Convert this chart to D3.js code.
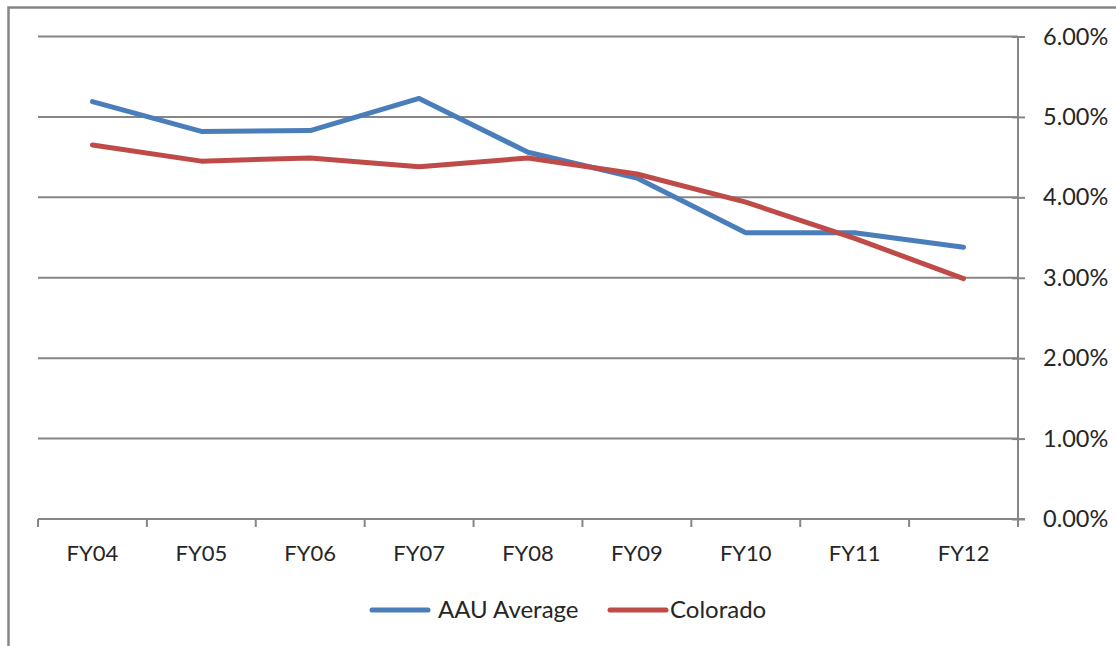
<!DOCTYPE html>
<html lang="en">
<head>
<meta charset="UTF-8">
<title>AAU Average vs Colorado</title>
<style>
    body { margin: 0; background: #fff; font-family: Lato, "Open Sans", sans-serif; }
    svg { display: block; }
    .grid line { stroke: #868686; stroke-width: 2; }
    .axis text { font-size: 22px; fill: #262626; font-family: Lato, sans-serif; }
    .axis.y text { font-size: 23.5px; }
    .axis path, .axis line { stroke: #868686; stroke-width: 2; }
    .legend text { font-size: 24px; fill: #262626; }
</style>
</head>
<body>
<script src="https://d3js.org/d3.v7.min.js"></script>
<script>
    // data
    const years = ["FY04", "FY05", "FY06", "FY07", "FY08", "FY09", "FY10", "FY11", "FY12"];
    const aauAverage = [5.19, 4.82, 4.83, 5.23, 4.56, 4.24, 3.56, 3.56, 3.38];
    const colorado = [4.65, 4.45, 4.49, 4.38, 4.49, 4.29, 3.94, 3.49, 2.99];
    const yTicks = [0, 1, 2, 3, 4, 5, 6];
    const seriesNames = ["AAU Average", "Colorado"];
    const colors = ["#4a7ebb", "#be4b48"];

    const width = 1116, height = 646;
    const plotLeft = 38, plotRight = 1018, plotTop = 36.5, plotBottom = 519;

    const svg = d3.select("body").append("svg")
        .attr("width", width)
        .attr("height", height);

    // chart frame (partly cut off in the original)
    svg.append("path")
        .attr("d", "M8.5," + height + "V7.5H" + width)
        .attr("fill", "none")
        .attr("stroke", "#868686")
        .attr("stroke-width", 2.5);

    const x = d3.scaleBand().domain(years).range([plotLeft, plotRight]);
    const y = d3.scaleLinear().domain([0, 6]).range([plotBottom, plotTop]);

    // gridlines
    svg.append("g").attr("class", "grid")
        .selectAll("line")
        .data(yTicks.slice(1))
        .join("line")
        .attr("x1", plotLeft)
        .attr("x2", plotRight)
        .attr("y1", d => y(d))
        .attr("y2", d => y(d));

    // right value axis
    const yAxis = d3.axisRight(y)
        .tickValues(yTicks)
        .tickSize(7)
        .tickPadding(18)
        .tickFormat(d => d3.format(".2f")(d) + "%");
    const ya = svg.append("g").attr("class", "axis y")
        .attr("transform", "translate(" + plotRight + ",0)")
        .call(yAxis);
    ya.select(".domain").attr("d", "M0," + y(6) + "V" + y(0));
    ya.selectAll(".tick line").attr("x1", -6);

    // bottom category axis, ticks on category boundaries
    const xa = svg.append("g").attr("class", "axis")
        .attr("transform", "translate(0," + plotBottom + ")");
    xa.append("line")
        .attr("x1", plotLeft).attr("x2", plotRight + 7);
    xa.selectAll(".tick")
        .data(years.concat(["end"]))
        .join("line")
        .attr("class", "tick")
        .attr("x1", (d, i) => plotLeft + i * x.step())
        .attr("x2", (d, i) => plotLeft + i * x.step())
        .attr("y1", 0)
        .attr("y2", 8);
    xa.selectAll("text")
        .data(years)
        .join("text")
        .attr("x", d => x(d) + x.bandwidth() / 2)
        .attr("y", 42)
        .attr("text-anchor", "middle")
        .text(d => d);

    // lines
    const line = d3.line()
        .x((d, i) => x(years[i]) + x.bandwidth() / 2)
        .y(d => y(d));

    [aauAverage, colorado].forEach((vals, k) => {
        svg.append("path")
            .datum(vals)
            .attr("fill", "none")
            .attr("stroke", colors[k])
            .attr("stroke-width", 5)
            .attr("stroke-linejoin", "round")
            .attr("stroke-linecap", "round")
            .attr("d", line);
    });

    // legend
    const legendPos = [372, 610];
    const lg = svg.append("g").attr("class", "legend");
    seriesNames.forEach((name, k) => {
        const lx = legendPos[k];
        lg.append("line")
            .attr("x1", lx).attr("x2", lx + 56)
            .attr("y1", 610).attr("y2", 610)
            .attr("stroke", colors[k])
            .attr("stroke-width", 5)
            .attr("stroke-linecap", "round");
        lg.append("text")
            .attr("x", lx + (k === 0 ? 66 : 60))
            .attr("y", 618)
            .text(name);
    });
</script>
</body>
</html>
